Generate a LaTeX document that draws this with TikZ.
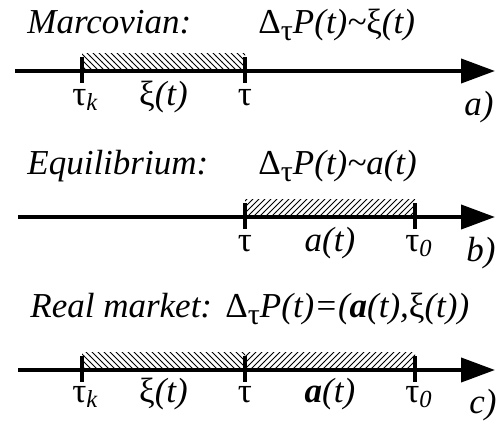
\documentclass[tikz,border=0pt]{standalone}
\usepackage{fontspec}
\setmainfont{Liberation Serif}
\usetikzlibrary{arrows.meta,patterns,calc,positioning}
\newcommand{\gr}[1]{\textup{#1}}
\newcommand{\dtau}{\gr{Δ}\raisebox{-0.45ex}{\fontsize{15}{16}\selectfont\gr{τ}}}

\begin{document}
\begin{tikzpicture}[
      x=0.5pt, y=-0.5pt,
      font=\fontsize{17.5}{19}\selectfont\itshape,
      axis/.style={line width=2pt, -{Triangle[length=17pt, width=12pt]}},
      tickmark/.style={line width=2pt},
      hatchnw/.style={pattern=north west lines},
      hatchne/.style={pattern=north east lines},
      lbl/.style={inner sep=0pt, anchor=base}
    ]
    \useasboundingbox (0,0) rectangle (503,428);

    % --- a) Marcovian ------------------------------------------------------
    \node[lbl, anchor=base west] (ta) at (27,33) {Marcovian:};
    \node[lbl, anchor=base west] (fa) at (258,33) {\dtau\textit{P}(\textit{t})\textasciitilde\gr{ξ}(\textit{t})};
    \coordinate (a0) at (15,71);
    \coordinate (a1) at (495,71);
    \coordinate (ak) at (82,71);
    \coordinate (at) at (245,71);
    \fill[hatchnw] (ak) rectangle ($(at)+(0,-18)$);
    \draw[axis] (a0) -- (a1);
    \foreach \p in {ak,at}
      \draw[tickmark] ($(\p)+(0,-14)$) -- ($(\p)+(0,12)$);
    \node[lbl, anchor=base west, xshift=-5pt] (lak) at ($(ak)+(0,34)$) {\gr{τ}\textsubscript{\textit{k}}};
    \node[lbl] (lax) at ($(ak)!0.5!(at)+(0,34)$) {\gr{ξ}(\textit{t})};
    \node[lbl] (lat) at ($(at)+(0,34)$) {\gr{τ}};
    \node[lbl] (na) at (479,115) {a)};

    % --- b) Equilibrium ----------------------------------------------------
    \node[lbl, anchor=base west] (tb) at (27,174) {Equilibrium:};
    \node[lbl, anchor=base west] (fb) at (258,174) {\dtau\textit{P}(\textit{t})\textasciitilde\textit{a}(\textit{t})};
    \coordinate (b0) at (18,217);
    \coordinate (b1) at (495,217);
    \coordinate (bt) at (245,217);
    \coordinate (bo) at (415,217);
    \fill[hatchne] (bt) rectangle ($(bo)+(0,-18)$);
    \draw[axis] (b0) -- (b1);
    \foreach \p in {bt,bo}
      \draw[tickmark] ($(\p)+(0,-14)$) -- ($(\p)+(0,12)$);
    \node[lbl] (lbt) at ($(bt)+(0,34)$) {\gr{τ}};
    \node[lbl] (lba) at ($(bt)!0.5!(bo)+(0,34)$) {\textit{a}(\textit{t})};
    \node[lbl, anchor=base west, xshift=-5pt] (lbo) at ($(bo)+(0,34)$) {\gr{τ}\textsubscript{\textit{0}}};
    \node[lbl] (nb) at (481,261) {b)};

    % --- c) Real market ----------------------------------------------------
    \node[lbl, anchor=base west] (tc) at (30,317) {Real market:};
    \node[lbl, anchor=base west] (fc) at (225,317) {\dtau\textit{P}(\textit{t})=(\textbf{\textit{a}}(\textit{t}),\gr{ξ}(\textit{t}))};
    \coordinate (c0) at (18,370);
    \coordinate (c1) at (495,370);
    \coordinate (ck) at (82,370);
    \coordinate (ct) at (245,370);
    \coordinate (co) at (415,370);
    \fill[hatchnw] (ck) rectangle ($(ct)+(0,-18)$);
    \fill[hatchne] (ct) rectangle ($(co)+(0,-18)$);
    \draw[axis] (c0) -- (c1);
    \foreach \p in {ck,ct,co}
      \draw[tickmark] ($(\p)+(0,-14)$) -- ($(\p)+(0,12)$);
    \node[lbl, anchor=base west, xshift=-5pt] (lck) at ($(ck)+(0,32)$) {\gr{τ}\textsubscript{\textit{k}}};
    \node[lbl] (lcx) at ($(ck)!0.5!(ct)+(0,32)$) {\gr{ξ}(\textit{t})};
    \node[lbl] (lct) at ($(ct)+(0,32)$) {\gr{τ}};
    \node[lbl] (lca) at ($(ct)!0.5!(co)+(0,32)$) {\textbf{\textit{a}}(\textit{t})};
    \node[lbl, anchor=base west, xshift=-5pt] (lco) at ($(co)+(0,32)$) {\gr{τ}\textsubscript{\textit{0}}};
    \node[lbl] (nc) at (483,413) {c)};
  \end{tikzpicture}
\end{document}
